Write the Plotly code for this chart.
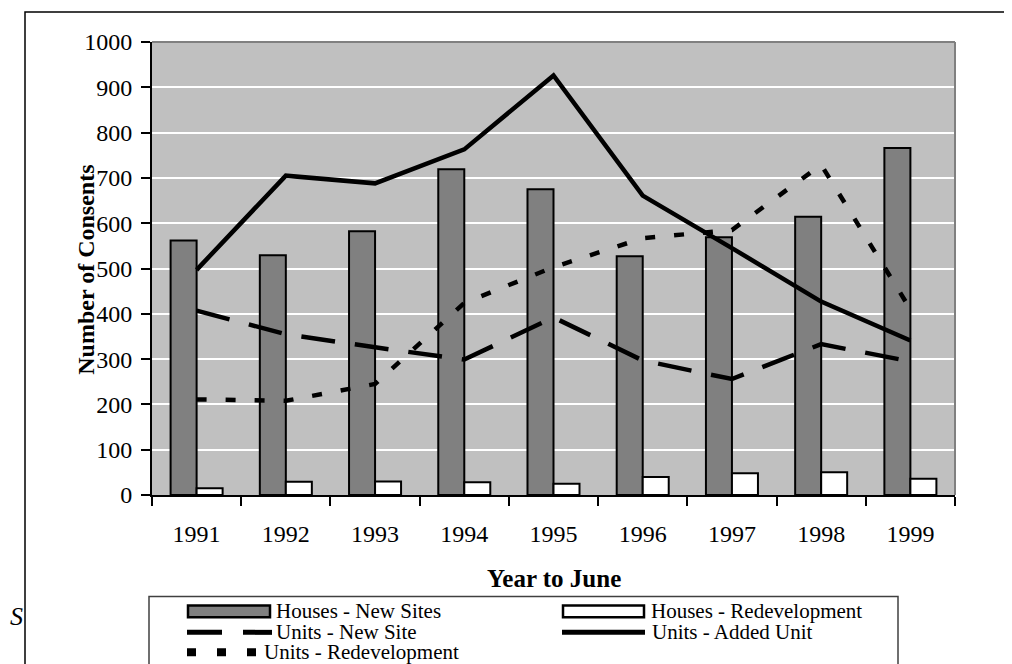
import plotly.graph_objects as go

# ---------------- data ----------------
years = ["1991", "1992", "1993", "1994", "1995", "1996", "1997", "1998", "1999"]
houses_new_sites = [562, 529, 582, 719, 675, 527, 569, 614, 766]
houses_redevelopment = [15, 29, 30, 28, 25, 40, 48, 50, 36]
units_new_site = [407, 355, 326, 299, 392, 297, 256, 333, 295]
units_added_unit = [497, 705, 688, 763, 926, 661, 545, 427, 341]
units_redevelopment = [211, 208, 245, 424, 503, 567, 585, 729, 410]

series_names = ["Houses - New Sites", "Houses - Redevelopment", "Units - New Site",
                "Units - Added Unit", "Units - Redevelopment"]
y_ticks = [0, 100, 200, 300, 400, 500, 600, 700, 800, 900, 1000]
x_title = "Year to June"
y_title = "Number of Consents"
source_fragment = "S"

FONT = "Liberation Serif"

# page pixel geometry (browser body adds an 8px margin)
OFF = 8
PAGE_W, PAGE_H = 1012, 664
PX_L, PX_R, PX_T, PX_B = 152, 955, 42, 495.5
W, H = PAGE_W - OFF, PAGE_H - OFF


def px(x):
    return (x - PX_L) / (PX_R - PX_L)


def py(y):
    return (PX_B - y) / (PX_B - PX_T)


fig = go.Figure()

fig.add_trace(go.Bar(x=years, y=houses_new_sites, name=series_names[0],
                     marker=dict(color="#808080", line=dict(color="black", width=2))))
fig.add_trace(go.Bar(x=years, y=houses_redevelopment, name=series_names[1],
                     marker=dict(color="#FFFFFF", line=dict(color="black", width=2))))
fig.add_trace(go.Scatter(x=years, y=units_new_site, name=series_names[2], mode="lines",
                         line=dict(color="black", width=4.5, dash="34px,20px")))
fig.add_trace(go.Scatter(x=years, y=units_added_unit, name=series_names[3], mode="lines",
                         line=dict(color="black", width=4.5)))
fig.add_trace(go.Scatter(x=years, y=units_redevelopment, name=series_names[4], mode="lines",
                         line=dict(color="black", width=4.5, dash="10px,19px")))

shapes = []
annotations = []

# plot-area border (top and right, gray)
shapes.append(dict(type="line", xref="paper", yref="paper", x0=0, x1=1, y0=1, y1=1,
                   line=dict(color="#808080", width=2), layer="above"))
shapes.append(dict(type="line", xref="paper", yref="paper", x0=1, x1=1, y0=0, y1=1,
                   line=dict(color="#808080", width=2), layer="above"))

# outer chart frame (top + left visible)
shapes.append(dict(type="rect", xref="paper", yref="paper",
                   x0=px(25), x1=px(1030), y0=py(700), y1=py(12),
                   line=dict(color="black", width=1.5), layer="below"))

# legend box
shapes.append(dict(type="rect", xref="paper", yref="paper",
                   x0=px(149), x1=px(898), y0=py(700), y1=py(597),
                   line=dict(color="#404040", width=1.5), fillcolor="white", layer="above"))

# legend symbols
row_y = [612, 633, 653]
shapes.append(dict(type="rect", xref="paper", yref="paper",
                   x0=px(188), x1=px(270), y0=py(618), y1=py(606),
                   fillcolor="#808080", line=dict(color="black", width=2.5), layer="above"))
shapes.append(dict(type="rect", xref="paper", yref="paper",
                   x0=px(563), x1=px(644), y0=py(618), y1=py(606),
                   fillcolor="#FFFFFF", line=dict(color="black", width=2.5), layer="above"))
shapes.append(dict(type="line", xref="paper", yref="paper",
                   x0=px(187), x1=px(272), y0=py(row_y[1]), y1=py(row_y[1]),
                   line=dict(color="black", width=5, dash="35px,21px"), layer="above"))
shapes.append(dict(type="line", xref="paper", yref="paper",
                   x0=px(562), x1=px(645), y0=py(row_y[1]), y1=py(row_y[1]),
                   line=dict(color="black", width=5), layer="above"))
shapes.append(dict(type="line", xref="paper", yref="paper",
                   x0=px(187), x1=px(257), y0=py(row_y[2]), y1=py(row_y[2]),
                   line=dict(color="black", width=8, dash="9px,21px"), layer="above"))

legend_text_pos = [(274, row_y[0]), (649, row_y[0]), (274, row_y[1]), (650, row_y[1]), (262, row_y[2])]
for name, (tx, ty) in zip(series_names, legend_text_pos):
    annotations.append(dict(text=name, xref="paper", yref="paper", x=px(tx), y=py(ty),
                            xanchor="left", yanchor="middle", showarrow=False,
                            font=dict(family=FONT, size=21, color="black")))

# y-axis title
annotations.append(dict(text="<b>%s</b>" % y_title, xref="paper", yref="paper",
                        x=px(86), y=py(270), textangle=-90, showarrow=False,
                        xanchor="center", yanchor="middle",
                        font=dict(family=FONT, size=24, color="black")))
# x-axis title
annotations.append(dict(text="<b>%s</b>" % x_title, xref="paper", yref="paper",
                        x=px(553.5), y=py(579), showarrow=False,
                        xanchor="center", yanchor="middle",
                        font=dict(family=FONT, size=25, color="black")))
# source fragment
annotations.append(dict(text="<i>%s</i>" % source_fragment, xref="paper", yref="paper",
                        x=px(16), y=py(617), showarrow=False,
                        xanchor="center", yanchor="middle",
                        font=dict(family=FONT, size=26, color="black")))

fig.update_layout(
    width=W, height=H,
    margin=dict(l=PX_L - OFF, r=PAGE_W - PX_R, t=PX_T - OFF, b=PAGE_H - PX_B, pad=0),
    paper_bgcolor="white",
    plot_bgcolor="#C0C0C0",
    barmode="group",
    bargap=0.417,
    bargroupgap=0,
    showlegend=False,
    font=dict(family=FONT, size=24, color="black"),
    shapes=shapes,
    annotations=annotations,
    xaxis=dict(type="category", tickson="boundaries", ticks="outside", ticklen=9,
               tickwidth=1.5, tickcolor="black", showline=True, linecolor="black",
               linewidth=2, showgrid=False, tickfont=dict(family=FONT, size=24),
               ticklabelstandoff=16),
    yaxis=dict(range=[0, 1000], tickvals=y_ticks, ticks="outside", ticklen=9,
               tickwidth=1.5, tickcolor="black", showline=True, linecolor="black",
               linewidth=2, showgrid=True, gridcolor="white", gridwidth=2,
               zeroline=False, tickfont=dict(family=FONT, size=24),
               ticklabelstandoff=4),
)

fig.write_html("out.html")
